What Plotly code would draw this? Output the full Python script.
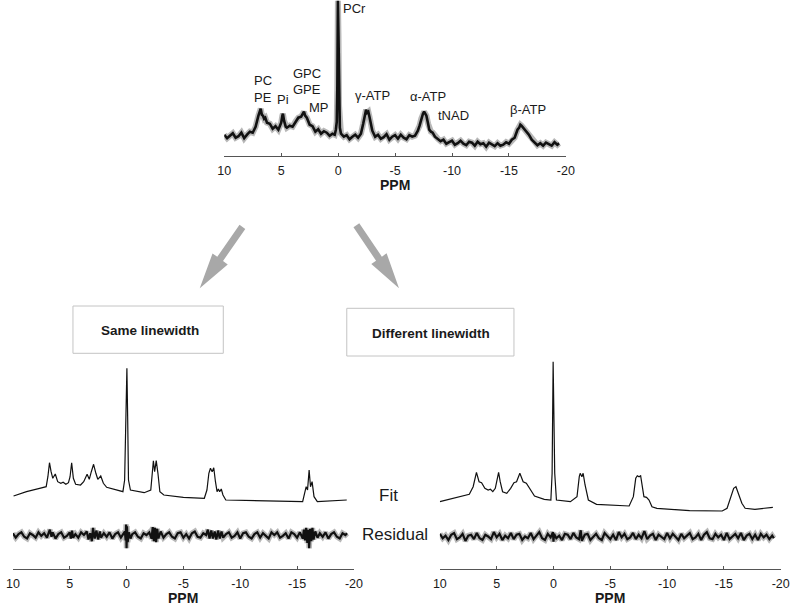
import plotly.graph_objects as go

# ---------------- data (ppm, intensity in a.u.) ----------------
TICK_VALS = [10, 5, 0, -5, -10, -15, -20]
TICK_TEXT = ["10", "5", "0", "-5", "-10", "-15", "-20"]

# in-vivo 31P spectrum (ppm, intensity)
top_spectrum = [
    (10.0, 21), (9.75, 17.5), (9.5, 20), (9.25, 22.5), (9.0, 18), (8.75, 19.5), (8.5, 23), (8.25, 17.5),
    (8.0, 21), (7.75, 24), (7.5, 23), (7.25, 29), (7.0, 40), (6.9, 44), (6.8, 47), (6.7, 41), (6.6, 40),
    (6.5, 37), (6.4, 38), (6.25, 33), (6.0, 32), (5.75, 27), (5.5, 29.5), (5.25, 26), (5.1, 30), (5.0, 33),
    (4.9, 40), (4.85, 42), (4.75, 35), (4.6, 29), (4.5, 28), (4.25, 30), (4.0, 29), (3.75, 34), (3.5, 38),
    (3.25, 39), (3.1, 42), (3.0, 44), (2.9, 40), (2.75, 38), (2.5, 31), (2.25, 29.5), (2.0, 24), (1.75, 26.5),
    (1.5, 22), (1.25, 24.5), (1.0, 23), (0.75, 20), (0.5, 22), (0.3, 21), (0.2, 26), (0.12, 34), (0.07, 70),
    (0.02, 155), (-0.03, 120), (-0.08, 50), (-0.15, 28), (-0.25, 22), (-0.5, 19), (-0.75, 20.5), (-1.0, 16.5),
    (-1.25, 19), (-1.5, 21), (-1.75, 18), (-2.0, 22), (-2.2, 32), (-2.35, 42), (-2.45, 46), (-2.55, 43),
    (-2.65, 44), (-2.75, 39), (-2.9, 30), (-3.0, 25), (-3.25, 19), (-3.5, 21), (-3.75, 17), (-4.0, 18.5),
    (-4.25, 21.5), (-4.5, 16), (-4.75, 19), (-5.0, 20.5), (-5.25, 17), (-5.5, 21), (-5.75, 18), (-6.0, 16.5),
    (-6.25, 20.5), (-6.5, 19), (-6.75, 20), (-7.0, 25), (-7.15, 30), (-7.3, 37), (-7.45, 42), (-7.55, 44),
    (-7.65, 42), (-7.75, 40), (-7.9, 32), (-8.0, 26), (-8.15, 24), (-8.3, 23), (-8.5, 19), (-8.75, 17),
    (-9.0, 14.5), (-9.25, 16), (-9.5, 12), (-9.75, 13.5), (-10.0, 15), (-10.25, 11), (-10.5, 12.5),
    (-10.75, 15), (-11.0, 12), (-11.25, 10.5), (-11.5, 14), (-11.75, 13), (-12.0, 10), (-12.25, 14),
    (-12.5, 11.5), (-12.75, 12.5), (-13.0, 9), (-13.25, 13), (-13.5, 11), (-13.75, 9.5), (-14.0, 12.5),
    (-14.25, 10), (-14.5, 11), (-14.75, 13.5), (-15.0, 12), (-15.25, 16), (-15.5, 18), (-15.75, 26),
    (-15.9, 28), (-16.0, 31), (-16.1, 30), (-16.25, 28), (-16.5, 25), (-16.75, 21), (-17.0, 16), (-17.25, 13),
    (-17.5, 10.5), (-17.75, 12.5), (-18.0, 10), (-18.25, 13), (-18.5, 11.5), (-18.75, 10), (-19.0, 13.5),
    (-19.25, 11), (-19.4, 12.5),
]

# "Same linewidth" fit and residual
same_fit = [
    (9.94, 14), (8.8, 18.3), (7.65, 21.7), (7.07, 23.3), (6.92, 33.3), (6.78, 47.3), (6.64, 38.3),
    (6.49, 31.7), (6.27, 36), (6.06, 28.3), (5.78, 26.7), (5.58, 27.7), (5.34, 25.7), (5.11, 27.3),
    (4.97, 33.3), (4.83, 47.3), (4.68, 31.7), (4.48, 25.7), (4.05, 25), (3.77, 28.3), (3.47, 35.7),
    (3.28, 30.7), (3.1, 38.3), (2.9, 45.7), (2.7, 36.7), (2.53, 30.7), (2.27, 34), (2.04, 26.7), (1.75, 22.7),
    (1.03, 20.7), (0.32, 18.3), (0.17, 30), (0.08, 90), (0.0, 141.7), (-0.03, 141.7), (-0.1, 90), (-0.17, 30),
    (-0.34, 20), (-1.55, 17.3), (-2.13, 20), (-2.27, 43.3), (-2.36, 49.3), (-2.47, 38.3), (-2.61, 49.3),
    (-2.76, 36.7), (-2.93, 18.3), (-3.28, 15), (-5.0, 12.7), (-6.84, 11.7), (-7.07, 20), (-7.24, 36.7),
    (-7.38, 41.7), (-7.53, 38.3), (-7.67, 42.3), (-7.82, 28.3), (-7.96, 18.3), (-8.08, 21), (-8.19, 18.3),
    (-8.33, 21), (-8.48, 15), (-8.73, 10), (-11.75, 9), (-15.49, 8.3), (-15.66, 16.7), (-15.8, 23.3),
    (-15.92, 20), (-16.06, 40), (-16.18, 23.3), (-16.32, 28.3), (-16.49, 13.3), (-16.78, 8.3), (-19.37, 10),
]
same_residual = [
    (10.0, 2), (9.75, -3), (9.5, 1), (9.25, 3), (9.0, -2), (8.75, -4), (8.5, 2), (8.25, 0), (8.0, -3),
    (7.75, 3), (7.5, -1), (7.25, 2), (7.0, -3), (6.85, 2), (6.75, 6), (6.6, -2), (6.5, 3), (6.25, -4),
    (6.0, 1), (5.75, 3), (5.5, -3), (5.25, -1), (5.0, 3), (4.9, -4), (4.8, 5), (4.7, -3), (4.5, 1),
    (4.25, -3), (4.0, 3), (3.75, 0), (3.5, 4), (3.35, -5), (3.2, 2), (3.05, -7), (2.95, 8), (2.8, -4),
    (2.65, 5), (2.5, -5), (2.35, 4), (2.25, -3), (2.0, 2), (1.75, -2), (1.5, 3), (1.25, -4), (1.0, 1),
    (0.75, 3), (0.5, -3), (0.3, 1), (0.15, 4), (0.08, -6), (0.04, 12), (0.0, -15), (-0.04, 10), (-0.1, -8),
    (-0.2, 3), (-0.35, -4), (-0.5, 1), (-0.75, 3), (-1.0, -2), (-1.25, -4), (-1.5, 2), (-1.75, 0), (-2.0, 3),
    (-2.2, -4), (-2.3, 9), (-2.4, -7), (-2.5, 8), (-2.6, -8), (-2.7, 7), (-2.8, -4), (-3.0, 4), (-3.25, -3),
    (-3.5, 1), (-3.75, 3), (-4.0, -2), (-4.25, -4), (-4.5, 2), (-4.75, 3), (-5.0, -3), (-5.25, 1),
    (-5.5, -4), (-5.75, 2), (-6.0, 4), (-6.25, -2), (-6.5, -3), (-6.75, 2), (-7.0, 0), (-7.15, 6),
    (-7.3, -4), (-7.45, 5), (-7.6, -4), (-7.75, 4), (-7.9, -5), (-8.05, 5), (-8.2, -4), (-8.35, 4),
    (-8.5, -3), (-8.75, 1), (-9.0, 3), (-9.25, -3), (-9.5, -1), (-9.75, 3), (-10.0, -4), (-10.25, 2),
    (-10.5, 3), (-10.75, -2), (-11.0, -4), (-11.25, 1), (-11.5, 3), (-11.75, -3), (-12.0, 2), (-12.25, -1),
    (-12.5, -4), (-12.75, 3), (-13.0, 0), (-13.25, 3), (-13.5, -3), (-13.75, -1), (-14.0, 2), (-14.25, -4),
    (-14.5, 3), (-14.75, 1), (-15.0, -3), (-15.25, 3), (-15.5, -4), (-15.6, 6), (-15.7, -6), (-15.8, 8),
    (-15.9, -9), (-16.0, 6), (-16.06, -15), (-16.15, 7), (-16.25, -7), (-16.35, 8), (-16.45, -5),
    (-16.6, 4), (-16.8, -3), (-17.0, 2), (-17.25, -2), (-17.5, 3), (-17.75, -4), (-18.0, 1), (-18.25, 3),
    (-18.5, -2), (-18.75, -4), (-19.0, 2), (-19.25, 0), (-19.4, 2),
]

# "Different linewidth" fit and residual
diff_fit = [
    (10.0, 8.3), (8.85, 11.7), (7.41, 15.7), (7.07, 23.3), (6.78, 37.7), (6.55, 28.3), (6.33, 27.3),
    (6.04, 21.7), (5.75, 20), (5.55, 20.7), (5.34, 18.3), (5.12, 21.7), (4.95, 31.7), (4.83, 37.7),
    (4.69, 28.3), (4.48, 18.3), (4.11, 16.7), (3.77, 21.7), (3.48, 27.3), (3.25, 28.3), (2.96, 36.7),
    (2.67, 28.3), (2.39, 26.7), (2.1, 21.7), (1.67, 14), (0.81, 10.7), (0.23, 10), (0.12, 36.7),
    (0.03, 148.3), (-0.11, 36.7), (-0.26, 10), (-1.49, 8.3), (-2.07, 13.3), (-2.27, 33.3), (-2.35, 36.7),
    (-2.5, 33.3), (-2.61, 36.7), (-2.78, 25), (-3.07, 10), (-3.79, 5.7), (-4.94, 5), (-6.66, 4),
    (-7.03, 13.3), (-7.24, 31.7), (-7.38, 34.3), (-7.53, 33.3), (-7.67, 34.3), (-7.81, 23.3), (-7.96, 13.3),
    (-8.19, 12.7), (-8.41, 10), (-8.67, 3.3), (-9.1, 1.7), (-11.98, -0.7), (-14.85, -1), (-15.28, 1.7),
    (-15.57, 11.7), (-15.86, 21.7), (-16.06, 23.3), (-16.29, 16.7), (-16.58, 6.7), (-16.87, 1.7),
    (-17.73, 0.7), (-19.31, 2.7),
]
diff_residual = [
    (10.0, 3), (9.75, -2), (9.5, 1), (9.25, -4), (9.0, 2), (8.75, 4), (8.5, -3), (8.25, -1), (8.0, 3),
    (7.75, -5), (7.5, 1), (7.25, 2), (7.0, -3), (6.75, 4), (6.5, -2), (6.25, -4), (6.0, 2), (5.75, 0),
    (5.5, -3), (5.25, 5), (5.0, -1), (4.75, 3), (4.5, -4), (4.25, 1), (4.0, -2), (3.75, 4), (3.5, -3),
    (3.25, 2), (3.0, 3), (2.75, -4), (2.5, 0), (2.25, -2), (2.0, 4), (1.75, -3), (1.5, 1), (1.25, 5),
    (1.0, -2), (0.75, -4), (0.5, 3), (0.25, -1), (0.05, 5), (0.0, -6), (-0.05, 3), (-0.25, -2), (-0.5, 1),
    (-0.75, -4), (-1.0, 3), (-1.25, 2), (-1.5, -3), (-1.75, 4), (-2.0, -1), (-2.25, -3), (-2.4, 7),
    (-2.5, -5), (-2.75, 2), (-3.0, 3), (-3.25, -4), (-3.5, 0), (-3.75, 3), (-4.0, -2), (-4.25, -4),
    (-4.5, 4), (-4.75, 1), (-5.0, -3), (-5.25, 2), (-5.5, -4), (-5.75, 5), (-6.0, -1), (-6.25, 3),
    (-6.5, -3), (-6.75, -1), (-7.0, 4), (-7.25, -3), (-7.5, 2), (-7.75, -2), (-8.0, 6), (-8.25, -3),
    (-8.5, 1), (-8.75, 3), (-9.0, -4), (-9.25, 2), (-9.5, -1), (-9.75, -3), (-10.0, 4), (-10.25, -2),
    (-10.5, 3), (-10.75, 0), (-11.0, -4), (-11.25, 3), (-11.5, -2), (-11.75, 1), (-12.0, 4), (-12.25, -3),
    (-12.5, -1), (-12.75, 3), (-13.0, -4), (-13.25, 2), (-13.5, 5), (-13.75, -2), (-14.0, -3), (-14.25, 3),
    (-14.5, -1), (-14.75, 2), (-15.0, -4), (-15.25, 4), (-15.5, -3), (-15.75, 0), (-16.0, 3), (-16.25, -2),
    (-16.5, 4), (-16.75, -4), (-17.0, 1), (-17.25, 3), (-17.5, -3), (-17.75, 2), (-18.0, -4), (-18.25, 3),
    (-18.5, -1), (-18.75, 2), (-19.0, -3), (-19.25, 1), (-19.4, -2),
]

TOP_LABELS = ["PCr", "PC", "PE", "Pi", "GPC", "GPE", "MP", "γ-ATP", "α-ATP", "tNAD", "β-ATP"]
BOX_LABELS = ["Same linewidth", "Different linewidth"]
SERIES_LABELS = ["Fit", "Residual"]
AXIS_TITLE = "PPM"


def cols(pairs):
    return [p[0] for p in pairs], [p[1] for p in pairs]


# ---------------- layout helpers (pixel -> paper) ----------------
W, H = 800, 605


def fx(px):
    return px / W


def fy(py):
    return 1 - py / H


FONT = "Liberation Sans, Arial, sans-serif"
AXCOL = "#555555"
TXT = "#1a1a1a"
INK = "#111111"
HALO = "rgba(0,0,0,0.28)"

fig = go.Figure()


def noisy_trace(pairs, xa, ya, core, halo):
    x, y = cols(pairs)
    fig.add_trace(go.Scatter(x=x, y=y, mode="lines", xaxis=xa, yaxis=ya,
                             line=dict(color=HALO, width=halo), hoverinfo="skip"))
    fig.add_trace(go.Scatter(x=x, y=y, mode="lines", xaxis=xa, yaxis=ya,
                             line=dict(color=INK, width=core)))


def smooth_trace(pairs, xa, ya):
    x, y = cols(pairs)
    fig.add_trace(go.Scatter(x=x, y=y, mode="lines", xaxis=xa, yaxis=ya,
                             line=dict(color=INK, width=1.2)))


noisy_trace(top_spectrum, "x", "y", 2.6, 6.0)
smooth_trace(same_fit, "x2", "y2")
noisy_trace(same_residual, "x2", "y3", 2.2, 5.5)
smooth_trace(diff_fit, "x3", "y4")
noisy_trace(diff_residual, "x3", "y5", 2.2, 5.5)


def xaxis_cfg(px0, px1, anchor):
    return dict(domain=[fx(px0), fx(px1)], range=[10, -20], anchor=anchor,
                showline=True, linecolor=AXCOL, linewidth=1, mirror=False,
                ticks="inside", ticklen=3, tickcolor=AXCOL, tickwidth=1,
                tickvals=TICK_VALS, ticktext=TICK_TEXT, ticklabelstandoff=3,
                tickfont=dict(family=FONT, size=12.5, color=TXT),
                showgrid=False, zeroline=False, fixedrange=True)


def yaxis_cfg(py_bottom, py_top, rng, anchor):
    return dict(domain=[fy(py_bottom), fy(py_top)], range=rng, anchor=anchor,
                visible=False, showgrid=False, zeroline=False, fixedrange=True)


TOP_AX_PY = 155.7
BOT_AX_PY = 569.3
FIT_ZERO_PY = 510.0

fig.update_layout(
    width=W, height=H, margin=dict(l=0, r=0, t=0, b=0),
    paper_bgcolor="white", plot_bgcolor="rgba(0,0,0,0)", showlegend=False,
    xaxis=xaxis_cfg(221.7, 570.3, "y"),
    yaxis=yaxis_cfg(TOP_AX_PY, 0, [0, TOP_AX_PY], "x"),
    xaxis2=xaxis_cfg(6.0, 354.0, "y2"),
    yaxis2=yaxis_cfg(BOT_AX_PY, 359.3, [FIT_ZERO_PY - BOT_AX_PY, FIT_ZERO_PY - 359.3], "x2"),
    yaxis3=yaxis_cfg(565, 505, [-34, 34], "x2"),
    xaxis3=xaxis_cfg(441.7, 789.5, "y4"),
    yaxis4=yaxis_cfg(BOT_AX_PY, 359.3, [FIT_ZERO_PY - BOT_AX_PY, FIT_ZERO_PY - 359.3], "x3"),
    yaxis5=yaxis_cfg(566.5, 506.5, [-34, 34], "x3"),
)

annotations = []


def label(text, px, py, size=13, bold=False, family=FONT, xanchor="center"):
    t = f"<b>{text}</b>" if bold else text
    annotations.append(dict(text=t, x=fx(px), y=fy(py), xref="paper", yref="paper",
                            xanchor=xanchor, yanchor="middle", showarrow=False,
                            font=dict(family=family, size=size, color=TXT)))


# peak labels (top)
top_label_pos = [(354.7, 8), (261.7, 80), (261.7, 97.7), (281.7, 99.3), (306.3, 73.3), (306.3, 90),
                 (318.2, 107.3), (372.8, 96), (429.2, 96.7), (455.5, 116), (532, 109)]
for txt, (px, py) in zip(TOP_LABELS, top_label_pos):
    label(txt, px, py, size=13)

label(AXIS_TITLE, 396, 185, size=14, bold=True)
label(AXIS_TITLE, 180, 598, size=14, bold=True)
label(AXIS_TITLE, 615.6, 598, size=14, bold=True)

label(SERIES_LABELS[0], 389, 495, size=17)
label(SERIES_LABELS[1], 395.5, 534, size=17)

label(BOX_LABELS[0], 145.5, 330, size=13.5, bold=True)
label(BOX_LABELS[1], 432.5, 333, size=13.5, bold=True)

shapes = []
for (x0, y0, x1, y1) in [(67.3, 306, 220.7, 353.3), (346.7, 308.3, 517.3, 356)]:
    shapes.append(dict(type="rect", xref="paper", yref="paper",
                       x0=fx(x0), x1=fx(x1), y0=fy(y1), y1=fy(y0),
                       line=dict(color="#c4c4c4", width=1), fillcolor="white", layer="below"))


def arrow_path(tail, tip, shaft_hw=3.6, head_hw=9.5, head_len=36):
    (tx, ty), (hx, hy) = tail, tip
    dx, dy = hx - tx, hy - ty
    L = (dx * dx + dy * dy) ** 0.5
    ux, uy = dx / L, dy / L
    nx, ny = -uy, ux
    bx, by = hx - ux * head_len, hy - uy * head_len
    pts = [(tx + nx * shaft_hw, ty + ny * shaft_hw),
           (bx + nx * shaft_hw, by + ny * shaft_hw),
           (bx + nx * head_hw, by + ny * head_hw),
           (hx, hy),
           (bx - nx * head_hw, by - ny * head_hw),
           (bx - nx * shaft_hw, by - ny * shaft_hw),
           (tx - nx * shaft_hw, ty - ny * shaft_hw)]
    return "M " + " L ".join(f"{fx(px):.5f},{fy(py):.5f}" for px, py in pts) + " Z"


for tail, tip in [((240.2, 226.8), (196.7, 288.3)), ((356.5, 225.3), (400.0, 288.3))]:
    shapes.append(dict(type="path", xref="paper", yref="paper", path=arrow_path(tail, tip),
                       fillcolor="#a8a8a8", line=dict(width=0)))

fig.update_layout(annotations=annotations, shapes=shapes)

fig.write_html("out.html", config={"displayModeBar": False},
               post_script="document.body.style.margin='0';document.body.style.overflow='hidden';")
